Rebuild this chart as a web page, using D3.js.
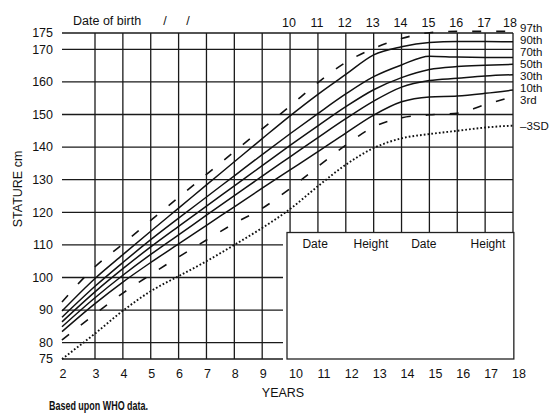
<!DOCTYPE html>
<html>
<head>
<meta charset="utf-8">
<script src="https://cdn.jsdelivr.net/npm/d3@7"></script>
<style>
  html, body { margin: 0; padding: 0; background: #fff; }
  svg { display: block; font-family: "Liberation Sans", Arial, Helvetica, sans-serif; }
</style>
</head>
<body>
<svg id="chart" width="554" height="413"></svg>
<script>
// ---- data ----
const ages = [2, 3, 4, 5, 6, 7, 8, 9, 10, 11, 12, 13, 14, 15, 16, 17, 18];
const p97 = [92.5, 103.3, 110.3, 117.5, 124.6, 131.6, 138.6, 145.6, 152.6, 159.8, 166, 170.3, 173.3, 175.1, 175.5, 175.5, 175.5];
const p90 = [89.7, 99.7, 107, 114.2, 121.3, 128.4, 135.5, 142.6, 149.6, 156.2, 162.3, 168.3, 170.8, 172.1, 172.4, 172.4, 172.3];
const p70 = [87.8, 97.3, 104.6, 111.6, 118.2, 124.7, 131.2, 137.7, 144.1, 150.3, 156.3, 161.6, 165.2, 167.9, 167.6, 167.5, 167.5];
const p50 = [86.4, 95.6, 102.7, 109.4, 115.7, 121.9, 128.1, 134.3, 140.5, 146.5, 152.4, 157.6, 161.3, 163.8, 164.7, 165.1, 165.4];
const p30 = [84.9, 93.8, 100.7, 107.1, 113.1, 119.1, 125.1, 131.1, 137, 142.9, 148.7, 154.1, 158.4, 160.4, 161.1, 161.8, 162.2];
const p10 = [83.4, 92, 98.6, 104.6, 110.3, 116, 121.7, 127.4, 133, 138.6, 144.3, 149.8, 153.9, 155.4, 155.7, 156.5, 157.5];
const p3  = [80.8, 88.8, 95.2, 100.9, 106.3, 111.5, 116.6, 121.2, 127.3, 134, 140.6, 146.2, 149, 149.9, 150.4, 153, 155.5];
const sd3 = [75, 82.8, 89.8, 95.8, 100.4, 105, 110, 115.2, 121, 128, 134.6, 139.7, 142.7, 144, 145, 146, 146.6];
const curveNames = ["97th", "90th", "70th", "50th", "30th", "10th", "3rd", "\u20133SD"];
const yTicks = [75, 80, 90, 100, 110, 120, 130, 140, 150, 160, 170, 175];
const topTicks = [10, 11, 12, 13, 14, 15, 16, 17, 18];
const boxHeaders = ["Date", "Height", "Date", "Height"];

// ---- layout ----
const svg = d3.select("#chart");
const x = d3.scaleLinear().domain([2, 3, 18]).range([62, 95, 513]);
const y = d3.scaleLinear().domain([75, 175]).range([359, 33]);
const ink = "#111";

// grid
const grid = svg.append("g");
grid.selectAll("line.h").data(yTicks).join("line")
  .attr("x1", x(2)).attr("x2", x(18))
  .attr("y1", d => y(d)).attr("y2", d => y(d))
  .attr("stroke", "#1a1a1a").attr("stroke-width", 1.3);
grid.selectAll("line.v").data(ages.filter(a => a > 2)).join("line")
  .attr("x1", d => x(d)).attr("x2", d => x(d))
  .attr("y1", y(75)).attr("y2", y(175))
  .attr("stroke", "#1a1a1a").attr("stroke-width", 1.3);

// curves
const series = [
  { v: p97, dash: "9,15", w: 1.6 },
  { v: p90, dash: null, w: 1.5 },
  { v: p70, dash: null, w: 1.5 },
  { v: p50, dash: null, w: 1.5 },
  { v: p30, dash: null, w: 1.5 },
  { v: p10, dash: null, w: 1.5 },
  { v: p3,  dash: "9,15", w: 1.6 },
  { v: sd3, dash: "1.7,2.1", w: 1.9 }
];
const line = d3.line().x((d, i) => x(ages[i])).y(d => y(d)).curve(d3.curveMonotoneX);
svg.append("g").selectAll("path").data(series).join("path")
  .attr("d", d => line(d.v))
  .attr("fill", "none").attr("stroke", ink)
  .attr("stroke-width", d => d.w)
  .attr("stroke-dasharray", d => d.dash);

// inset box
const bx0 = x(9.89), bx1 = x(18.03), by0 = y(113.8), by1 = y(75);
svg.append("rect").attr("x", bx0 - 4).attr("y", by0).attr("width", bx1 - bx0 + 8).attr("height", by1 - by0 + 3)
  .attr("fill", "#fff");
svg.append("rect").attr("x", bx0).attr("y", by0).attr("width", bx1 - bx0).attr("height", by1 - by0)
  .attr("fill", "#fff").attr("stroke", "#222").attr("stroke-width", 1.3);
const headerX = [10.9, 12.9, 14.8, 17.1];
svg.append("g").selectAll("text").data(boxHeaders).join("text")
  .attr("x", (d, i) => x(headerX[i])).attr("y", by0 + 15)
  .attr("text-anchor", "middle").attr("font-size", 12).attr("fill", ink)
  .text(d => d);

// y axis labels
svg.append("g").selectAll("text").data(yTicks).join("text")
  .attr("x", 53).attr("y", d => y(d)).attr("dy", "0.35em")
  .attr("text-anchor", "end").attr("font-size", 12.5).attr("fill", ink)
  .text(d => d);

// bottom x labels
svg.append("g").selectAll("text").data(ages).join("text")
  .attr("x", d => x(d) + (d >= 10 ? 6 : 1)).attr("y", 378)
  .attr("text-anchor", "middle").attr("font-size", 12.5).attr("fill", ink)
  .text(d => d);

// top x labels
svg.append("g").selectAll("text").data(topTicks).join("text")
  .attr("x", d => x(d) - (d === 18 ? 3 : 1)).attr("y", 27)
  .attr("text-anchor", "middle").attr("font-size", 12.5).attr("fill", ink)
  .text(d => d);

// right labels
svg.append("g").selectAll("text").data(curveNames).join("text")
  .attr("x", 520)
  .attr("y", (d, i) => i < 7 ? 32 + i * 12 : 129.5)
  .attr("font-size", 11.5).attr("fill", ink)
  .text(d => d);

// titles
svg.append("text").attr("x", 73).attr("y", 25).attr("font-size", 12.5).attr("fill", ink)
  .text("Date of birth");
svg.append("text").attr("x", 165).attr("y", 25).attr("font-size", 12.5).attr("fill", ink)
  .attr("text-anchor", "middle").text("/");
svg.append("text").attr("x", 188).attr("y", 25).attr("font-size", 12.5).attr("fill", ink)
  .attr("text-anchor", "middle").text("/");
svg.append("text").attr("transform", "translate(22,189) rotate(-90)")
  .attr("text-anchor", "middle").attr("font-size", 12.5).attr("fill", ink)
  .text("STATURE cm");
svg.append("text").attr("x", 283).attr("y", 397).attr("text-anchor", "middle")
  .attr("font-size", 12.5).attr("fill", ink).text("YEARS");
svg.append("text").attr("x", 49).attr("y", 410).attr("font-size", 12.5)
  .attr("font-weight", "bold").attr("fill", ink)
  .attr("textLength", 99).attr("lengthAdjust", "spacingAndGlyphs")
  .text("Based upon WHO data.");
</script>
</body>
</html>
